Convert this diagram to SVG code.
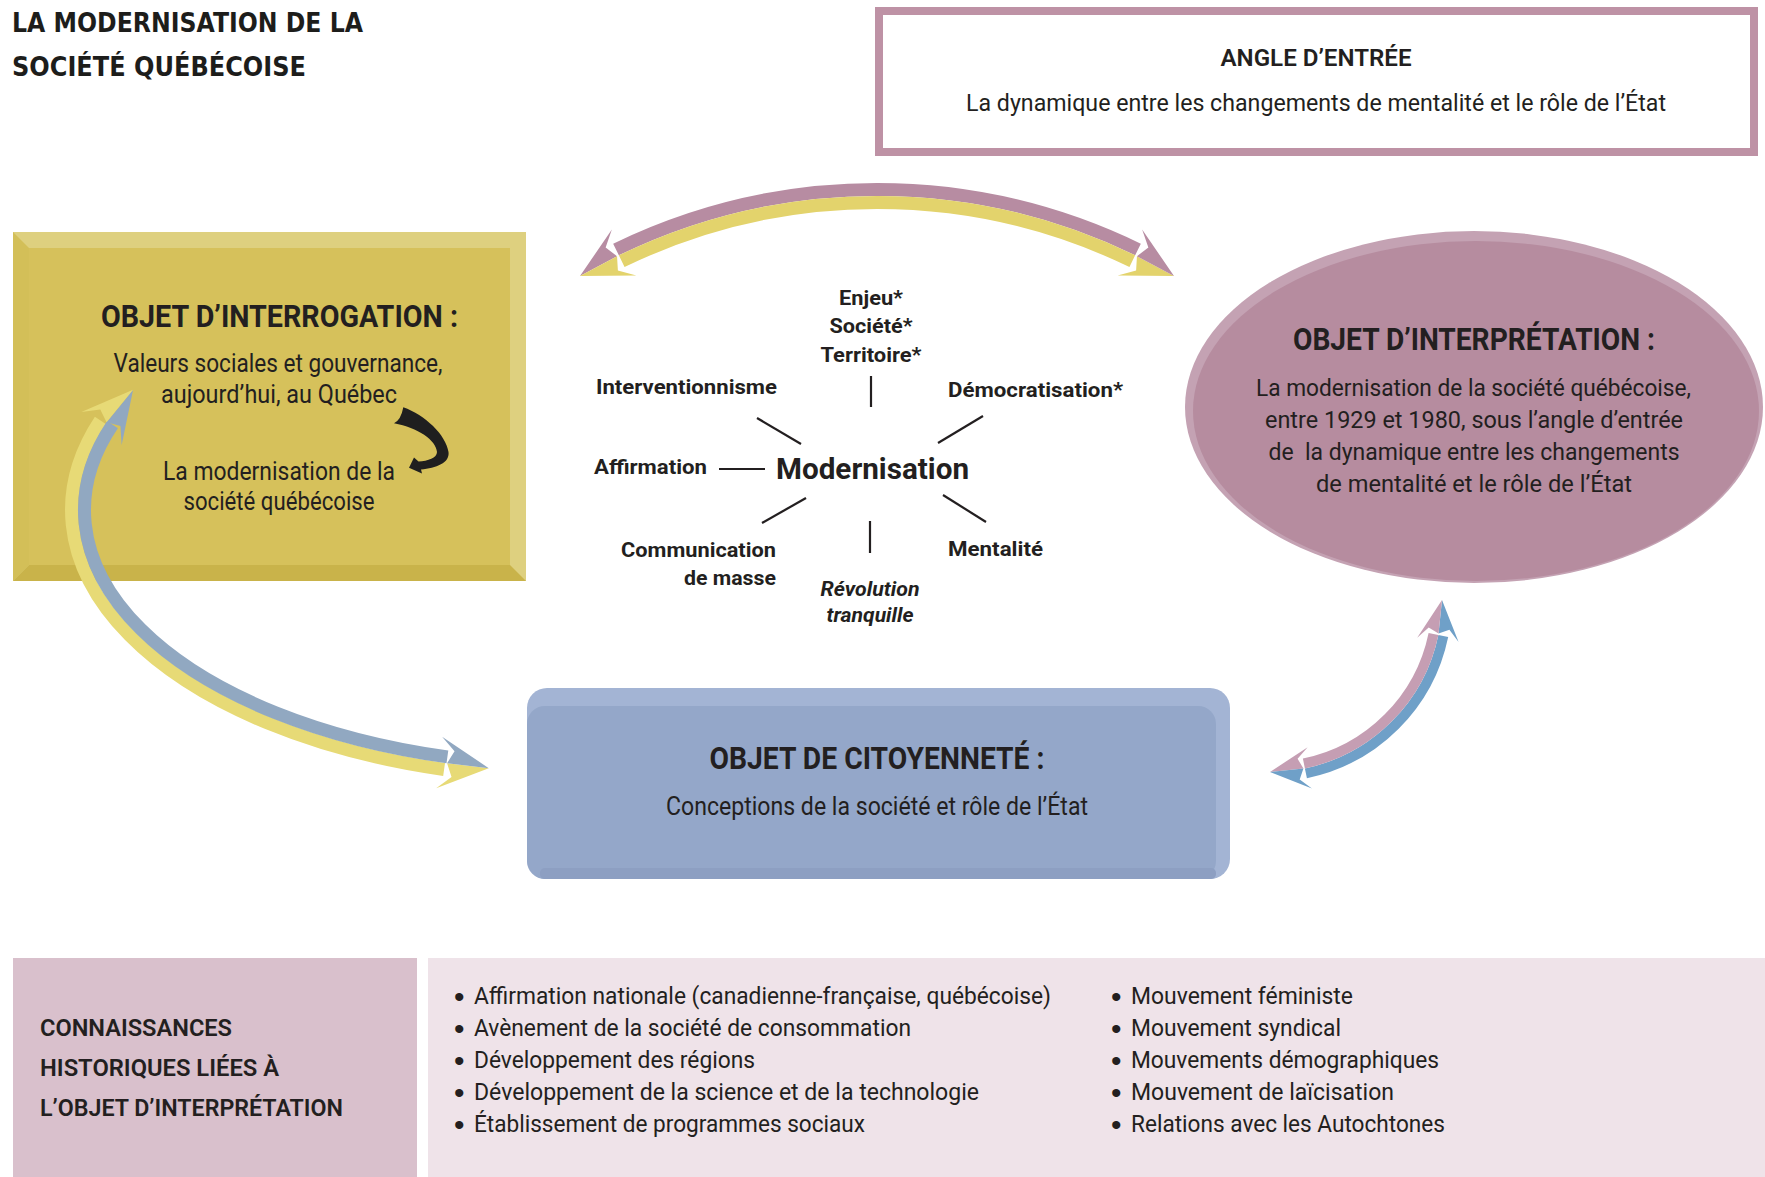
<svg xmlns="http://www.w3.org/2000/svg" xmlns:xlink="http://www.w3.org/1999/xlink" width="1765" height="1177" viewBox="0 0 1765 1177">
<style>
.t{font-family:'Liberation Sans Narrow','Roboto','Liberation Sans',sans-serif;fill:#231f20}
.b{font-weight:bold}
.s{font-weight:600}
.i{font-style:italic}
.c{text-anchor:middle}
.e{text-anchor:end}
.bul{font-family:'Liberation Sans','Roboto',sans-serif;font-size:30px;fill:#231f20}
.title{font-family:'DejaVu Sans','Liberation Sans',sans-serif;font-weight:bold;font-size:27px;fill:#1d1d1b}
.hl{stroke:#231f20;stroke-width:2.2;fill:none}
.band{fill:none}
</style>
<defs>
<g id="hd">
<path d="M0 0 L-50 26 L-36 13 L-42 0 Z"/>
<path d="M0 0 L-42 0 L-36 -13 L-50 -26 Z" fill="currentColor"/>
</g>
</defs>
<rect width="1765" height="1177" fill="#ffffff"/>

<g id="title">
<text class="title" x="12" y="32" textLength="351" lengthAdjust="spacingAndGlyphs">LA MODERNISATION DE LA</text>
<text class="title" x="12" y="76" textLength="294" lengthAdjust="spacingAndGlyphs">SOCIÉTÉ QUÉBÉCOISE</text>
</g>

<g id="angle-entree">
<rect x="879" y="11" width="875" height="141" fill="#ffffff" stroke="#be92a5" stroke-width="8"/>
<text class="t s c" x="1316" y="66" font-size="23" textLength="191" lengthAdjust="spacingAndGlyphs">ANGLE D’ENTRÉE</text>
<text class="t c" x="1316" y="111" font-size="23" textLength="700" lengthAdjust="spacingAndGlyphs">La dynamique entre les changements de mentalité et le rôle de l’État</text>
</g>

<g id="objet-interrogation">
<rect x="13" y="232" width="513" height="349" fill="#ded07f"/>
<path d="M13 232 L29 248 L29 565 L13 581 Z" fill="#d3bf58"/>
<path d="M13 581 L29 565 L510 565 L526 581 Z" fill="#c9b34a"/>
<rect x="29" y="248" width="481" height="317" fill="#d6c15b"/>
<text class="t b c" x="279.5" y="327" font-size="32" textLength="357" lengthAdjust="spacingAndGlyphs">OBJET D’INTERROGATION :</text>
<text class="t c" x="278" y="372" font-size="25" textLength="329" lengthAdjust="spacingAndGlyphs">Valeurs sociales et gouvernance,</text>
<text class="t c" x="279" y="403" font-size="25" textLength="236" lengthAdjust="spacingAndGlyphs">aujourd’hui, au Québec</text>
<text class="t c" x="279" y="480" font-size="25" textLength="232" lengthAdjust="spacingAndGlyphs">La modernisation de la</text>
<text class="t c" x="279" y="510" font-size="25" textLength="191" lengthAdjust="spacingAndGlyphs">société québécoise</text>
</g>

<g id="objet-interpretation">
<ellipse cx="1474" cy="407" rx="289" ry="176" fill="#c4a2b3"/>
<ellipse cx="1476" cy="411" rx="283" ry="170" fill="#b68c9f"/>
<text class="t b c" x="1474" y="350" font-size="32" textLength="362" lengthAdjust="spacingAndGlyphs">OBJET D’INTERPRÉTATION :</text>
<text class="t c" x="1473.5" y="396" font-size="24" textLength="435" lengthAdjust="spacingAndGlyphs">La modernisation de la société québécoise,</text>
<text class="t c" x="1474" y="428" font-size="24" textLength="418" lengthAdjust="spacingAndGlyphs">entre 1929 et 1980, sous l’angle d’entrée</text>
<text class="t c" x="1474" y="460" font-size="24" textLength="411" lengthAdjust="spacingAndGlyphs" xml:space="preserve">de  la dynamique entre les changements</text>
<text class="t c" x="1474" y="492" font-size="24" textLength="316" lengthAdjust="spacingAndGlyphs">de mentalité et le rôle de l’État</text>
</g>

<g id="objet-citoyennete">
<rect x="527" y="688" width="703" height="191" rx="20" fill="#a3b4d4"/>
<rect x="527" y="706" width="689" height="173" rx="18" fill="#94a7c9"/>
<rect x="540" y="868" width="676" height="11" rx="5" fill="#8d9fc2"/>
<text class="t b c" x="877" y="769" font-size="32" textLength="335" lengthAdjust="spacingAndGlyphs">OBJET DE CITOYENNETÉ :</text>
<text class="t c" x="877" y="815" font-size="25" textLength="422" lengthAdjust="spacingAndGlyphs">Conceptions de la société et rôle de l’État</text>
</g>

<g id="concepts">
<text class="t b c" x="871" y="305" font-size="21" textLength="64" lengthAdjust="spacingAndGlyphs">Enjeu*</text>
<text class="t b c" x="871" y="333" font-size="21" textLength="83" lengthAdjust="spacingAndGlyphs">Société*</text>
<text class="t b c" x="871" y="362" font-size="21" textLength="101" lengthAdjust="spacingAndGlyphs">Territoire*</text>
<text class="t b" x="596" y="394" font-size="21" textLength="181" lengthAdjust="spacingAndGlyphs">Interventionnisme</text>
<text class="t b" x="948" y="397" font-size="21" textLength="175" lengthAdjust="spacingAndGlyphs">Démocratisation*</text>
<text class="t b" x="594" y="474" font-size="21" textLength="113" lengthAdjust="spacingAndGlyphs">Affirmation</text>
<text class="t b" x="776" y="479" font-size="29" textLength="193" lengthAdjust="spacingAndGlyphs">Modernisation</text>
<text class="t b e" x="776" y="557" font-size="21" textLength="155" lengthAdjust="spacingAndGlyphs">Communication</text>
<text class="t b e" x="776" y="585" font-size="21" textLength="92" lengthAdjust="spacingAndGlyphs">de masse</text>
<text class="t b" x="948" y="556" font-size="21" textLength="95" lengthAdjust="spacingAndGlyphs">Mentalité</text>
<text class="t b i c" x="870" y="596" font-size="21" textLength="99" lengthAdjust="spacingAndGlyphs">Révolution</text>
<text class="t b i c" x="870" y="622" font-size="21" textLength="87" lengthAdjust="spacingAndGlyphs">tranquille</text>
</g>

<g id="connaissances-titre">
<rect x="13" y="958" width="404" height="219" fill="#d9c0cc"/>
<text class="t s" x="40" y="1036" font-size="24" textLength="192" lengthAdjust="spacingAndGlyphs">CONNAISSANCES</text>
<text class="t s" x="40" y="1076" font-size="24" textLength="239" lengthAdjust="spacingAndGlyphs">HISTORIQUES LIÉES À</text>
<text class="t s" x="40" y="1116" font-size="24" textLength="303" lengthAdjust="spacingAndGlyphs">L’OBJET D’INTERPRÉTATION</text>
</g>

<g id="connaissances-liste">
<rect x="428" y="958" width="1337" height="219" fill="#efe3e9"/>
<text class="bul" x="454" y="1007">•</text>
<text class="bul" x="454" y="1039">•</text>
<text class="bul" x="454" y="1071">•</text>
<text class="bul" x="454" y="1103">•</text>
<text class="bul" x="454" y="1135">•</text>
<text class="bul" x="1111" y="1007">•</text>
<text class="bul" x="1111" y="1039">•</text>
<text class="bul" x="1111" y="1071">•</text>
<text class="bul" x="1111" y="1103">•</text>
<text class="bul" x="1111" y="1135">•</text>
<text class="t" x="474" y="1004" font-size="24" textLength="577" lengthAdjust="spacingAndGlyphs">Affirmation nationale (canadienne-française, québécoise)</text>
<text class="t" x="474" y="1036" font-size="24" textLength="437" lengthAdjust="spacingAndGlyphs">Avènement de la société de consommation</text>
<text class="t" x="474" y="1068" font-size="24" textLength="281" lengthAdjust="spacingAndGlyphs">Développement des régions</text>
<text class="t" x="474" y="1100" font-size="24" textLength="505" lengthAdjust="spacingAndGlyphs">Développement de la science et de la technologie</text>
<text class="t" x="474" y="1132" font-size="24" textLength="391" lengthAdjust="spacingAndGlyphs">Établissement de programmes sociaux</text>
<text class="t" x="1131" y="1004" font-size="24" textLength="222" lengthAdjust="spacingAndGlyphs">Mouvement féministe</text>
<text class="t" x="1131" y="1036" font-size="24" textLength="210" lengthAdjust="spacingAndGlyphs">Mouvement syndical</text>
<text class="t" x="1131" y="1068" font-size="24" textLength="308" lengthAdjust="spacingAndGlyphs">Mouvements démographiques</text>
<text class="t" x="1131" y="1100" font-size="24" textLength="263" lengthAdjust="spacingAndGlyphs">Mouvement de laïcisation</text>
<text class="t" x="1131" y="1132" font-size="24" textLength="314" lengthAdjust="spacingAndGlyphs">Relations avec les Autochtones</text>
</g>

<g id="connectors">
<!-- top arc: interrogation <-> interpretation -->
<path class="band" d="M616 249.5 A597.5 597.5 0 0 1 1138 249.5" stroke="#b78ca2" stroke-width="13"/>
<path class="band" d="M621.7 261.2 A584.5 584.5 0 0 1 1132.3 261.2" stroke="#e3d36c" stroke-width="13"/>
<use xlink:href="#hd" transform="translate(580 276) rotate(151.9)" fill="#b78ca2" color="#e3d36c"/>
<use xlink:href="#hd" transform="translate(1174 276) rotate(28.1)" fill="#e3d36c" color="#b78ca2"/>

<!-- left arc: interrogation <-> citoyennete -->
<path class="band" d="M444.1 769.5 A501.5 268.5 0 0 1 100.3 420.4" stroke="#e7da76" stroke-width="13"/>
<path class="band" d="M447.4 756.9 A488.5 255.5 0 0 1 112.5 424.7" stroke="#91a8c1" stroke-width="13"/>
<use xlink:href="#hd" transform="translate(133.1 389.8) rotate(-50.8)" fill="#91a8c1" color="#e7da76"/>
<use xlink:href="#hd" transform="translate(488.8 768.2) rotate(6.6)" fill="#e7da76" color="#91a8c1"/>

<!-- right arc: citoyennete <-> interpretation -->
<path class="band" d="M1443.3 635.9 A177 177 0 0 1 1305.9 773.3" stroke="#6fa0c8" stroke-width="10"/>
<path class="band" d="M1433.5 633.9 A167 167 0 0 1 1303.9 763.5" stroke="#c59eb3" stroke-width="10"/>
<use xlink:href="#hd" transform="translate(1442 600) rotate(-84.1) scale(0.8)" fill="#6fa0c8" color="#c59eb3"/>
<use xlink:href="#hd" transform="translate(1270 772) rotate(174.1) scale(0.8)" fill="#c59eb3" color="#6fa0c8"/>

<!-- black curved arrow in interrogation box -->
<path d="M403.3 407.3 C425 415 446 435 448.5 452 C450 463 436 468 421 469.5 L422 473.5 L409 467.7 L414 457.5 L418.5 461.5 C428 461 437 458 437 452 C436 440 418 428 394 423.3 Q401 420 403.3 407.3 Z" fill="#1f1f1f"/>

<!-- concept map spokes -->
<line class="hl" x1="871" y1="376" x2="871" y2="407"/>
<line class="hl" x1="757" y1="418" x2="801" y2="444"/>
<line class="hl" x1="983" y1="416" x2="938" y2="443"/>
<line class="hl" x1="719" y1="469" x2="765" y2="469"/>
<line class="hl" x1="806" y1="498" x2="762" y2="523"/>
<line class="hl" x1="943" y1="495" x2="986" y2="522"/>
<line class="hl" x1="870" y1="521" x2="870" y2="553"/>
</g>
</svg>
